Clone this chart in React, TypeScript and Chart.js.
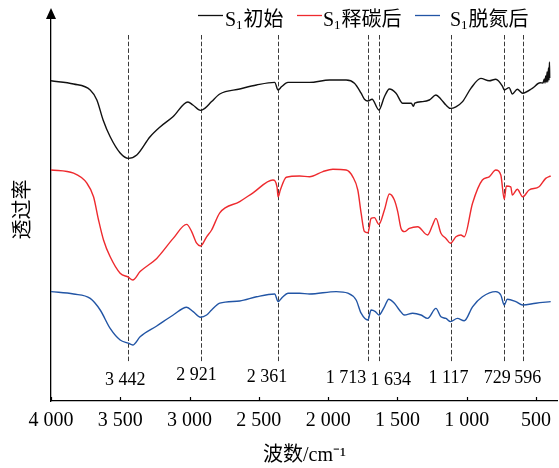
import React, { useEffect, useRef } from 'react';
import { Chart, registerables } from 'chart.js';

Chart.register(...registerables);

// ---------- data ----------
const xTickValues = [4000, 3500, 3000, 2500, 2000, 1500, 1000, 500];
const peakWavenumbers = [3442, 2921, 2361, 1713, 1634, 1117, 729, 596];

const sampleName = 'S';
const sampleSub = '1';
const seriesSuffixes = ['初始', '释碳后', '脱氮后'];
const seriesColors = ['#111111', '#ee2a2e', '#2255a5'];

const initialWn = [4000, 3837, 3717, 3669, 3624, 3573, 3501, 3442, 3381, 3285, 3213, 3120, 3012, 2976, 2921, 2890, 2841, 2782, 2638, 2517, 2386, 2361, 2337, 2290, 2206, 2134, 1990, 1870, 1810, 1762, 1738, 1713, 1683, 1634, 1594, 1558, 1510, 1462, 1400, 1385, 1375, 1318, 1270, 1222, 1186, 1150, 1117, 1078, 1030, 970, 898, 838, 790, 743, 729, 694, 671, 635, 596, 527, 470, 450, 440, 435, 430, 425, 420, 415, 410, 406, 403, 401];
const initialT = [80.8, 80, 78.5, 76, 71, 66.8, 62.75, 61.4, 62.25, 66.8, 69.25, 71.8, 75.5, 74.75, 73.4, 73.9, 75.6, 77.5, 78.75, 79.75, 80.4, 78.5, 79.3, 80.4, 80.4, 80.4, 81, 81, 80.2, 77.7, 76.2, 75.75, 76.2, 73.5, 76.8, 78.75, 77.7, 75.2, 75.2, 74.4, 75.2, 75.6, 76, 77.25, 76.2, 74.75, 73.9, 74.3, 75.6, 78.9, 81.4, 80.8, 81.2, 79.5, 78.5, 79.1, 77.5, 78.7, 77.7, 78.9, 80.3, 80.25, 81.25, 80.25, 82, 80.5, 83, 80.5, 84, 81, 85.5, 81.5];

const carbonWn = [4000, 3837, 3741, 3693, 3657, 3621, 3573, 3501, 3442, 3410, 3357, 3237, 3118, 3021, 2985, 2949, 2921, 2877, 2841, 2782, 2638, 2542, 2398, 2369, 2361, 2345, 2302, 2206, 2134, 2038, 1966, 1870, 1822, 1786, 1762, 1738, 1713, 1690, 1666, 1634, 1594, 1558, 1522, 1498, 1474, 1450, 1414, 1354, 1282, 1246, 1222, 1186, 1150, 1117, 1078, 1042, 1018, 958, 887, 838, 790, 754, 729, 714, 682, 671, 635, 596, 550, 478, 430, 394];
const carbonT = [58.5, 57.7, 55.2, 51.8, 46, 41, 36.8, 32.7, 31.7, 31, 33.1, 36.4, 41.4, 44.9, 43.1, 40.2, 39.5, 41.8, 43.5, 47.8, 50.6, 52.8, 56, 54.3, 51.8, 53.5, 56.7, 57, 56.8, 58.1, 58.7, 58.5, 56.8, 53.5, 47.7, 43.1, 42.8, 46.4, 46.6, 44.9, 48.5, 52.5, 51, 48.1, 43.9, 43.1, 43.9, 44.3, 42.25, 44.75, 46.4, 42.7, 41.4, 40.2, 41.8, 42.25, 41.8, 50.2, 56, 56.8, 58.5, 57.25, 51.2, 54.5, 54.3, 52.25, 53.7, 51.8, 53.5, 54.3, 56.4, 57];

const nitrogenWn = [4000, 3837, 3717, 3645, 3573, 3501, 3442, 3410, 3357, 3237, 3118, 3021, 2974, 2921, 2877, 2841, 2782, 2638, 2517, 2386, 2361, 2330, 2290, 2206, 2134, 1942, 1858, 1798, 1762, 1713, 1690, 1659, 1634, 1594, 1563, 1522, 1486, 1450, 1390, 1330, 1282, 1222, 1186, 1150, 1117, 1067, 1018, 958, 887, 790, 754, 729, 707, 646, 596, 502, 394];
const nitrogenT = [28.1, 27.5, 26.4, 23.5, 18.9, 16, 15.2, 14.75, 16.8, 19.5, 22.25, 24.2, 23.1, 21.7, 22.25, 23.5, 25.2, 25.75, 26.8, 27.5, 25.6, 26.7, 27.7, 27.7, 27.5, 28.1, 27.7, 26, 22.7, 21, 23.5, 23.1, 22.25, 24.3, 26.2, 25.2, 23.5, 22.25, 22.7, 22.25, 21.4, 23.9, 21.8, 21.4, 20.6, 21.4, 20.8, 24.3, 26.8, 28.1, 27.25, 24.75, 26.2, 25.6, 24.75, 25.2, 25.6];

const seriesWn = [initialWn, carbonWn, nitrogenWn];
const seriesT = [initialT, carbonT, nitrogenT];

// ---------- helpers ----------
const FONT = '"Liberation Serif", "Noto Sans CJK SC", serif';
const fmt = (v: number) =>
  v >= 1000 ? `${Math.floor(v / 1000)} ${String(v % 1000).padStart(3, '0')}` : String(v);

const annotPlugin = {
  id: 'annot',
  beforeDatasetsDraw(chart: any) {
    const { ctx, chartArea, scales } = chart;
    const x = scales.x;
    ctx.save();
    ctx.strokeStyle = '#3a3a3a';
    ctx.lineWidth = 1;
    ctx.setLineDash([4.5, 2.2]);
    const yTop = chartArea.top + 17;
    const yBot = chartArea.bottom - 38;
    peakWavenumbers.forEach((p) => {
      const px = Math.round(x.getPixelForValue(p)) + 0.5;
      ctx.beginPath();
      ctx.moveTo(px, yTop);
      ctx.lineTo(px, yBot);
      ctx.stroke();
    });
    ctx.restore();
  },
  afterDraw(chart: any) {
    const { ctx, chartArea, scales } = chart;
    const x = scales.x;
    ctx.save();
    // inward ticks
    ctx.strokeStyle = '#000';
    ctx.lineWidth = 1.2;
    xTickValues.forEach((v) => {
      const px = Math.round(x.getPixelForValue(v)) + 0.5;
      ctx.beginPath();
      ctx.moveTo(px, chartArea.bottom);
      ctx.lineTo(px, chartArea.bottom - 4);
      ctx.stroke();
    });
    // y-axis arrow
    ctx.fillStyle = '#000';
    const ax = chartArea.left;
    ctx.beginPath();
    ctx.moveTo(ax, chartArea.top - 10);
    ctx.lineTo(ax - 5, chartArea.top + 1);
    ctx.lineTo(ax + 5, chartArea.top + 1);
    ctx.closePath();
    ctx.fill();
    // peak labels
    const dx = [-3, -4, -11, -22, 12, -2, -7, 5];
    const ly = [380, 375, 377, 378, 380, 378, 378, 378];
    ctx.font = `18px ${FONT}`;
    ctx.textAlign = 'center';
    ctx.textBaseline = 'middle';
    peakWavenumbers.forEach((p, i) => {
      ctx.fillText(fmt(p), x.getPixelForValue(p) + dx[i], ly[i]);
    });
    // legend
    const starts = [198, 297, 415];
    const textGap = [2, 1, 10];
    const lineY = 15.5;
    const base = 26;
    ctx.textAlign = 'left';
    ctx.textBaseline = 'alphabetic';
    seriesSuffixes.forEach((s, i) => {
      const x0 = starts[i];
      ctx.strokeStyle = seriesColors[i];
      ctx.lineWidth = 1.3;
      ctx.beginPath();
      ctx.moveTo(x0, lineY);
      ctx.lineTo(x0 + 25, lineY);
      ctx.stroke();
      let tx = x0 + 25 + textGap[i];
      ctx.fillStyle = '#000';
      ctx.font = `20px ${FONT}`;
      ctx.fillText(sampleName, tx, base);
      tx += ctx.measureText(sampleName).width;
      ctx.font = `13px ${FONT}`;
      ctx.fillText(sampleSub, tx, base + 3);
      tx += ctx.measureText(sampleSub).width + 1;
      ctx.font = `20px ${FONT}`;
      ctx.fillText(s, tx, base);
    });
    ctx.restore();
  },
};

export default function App() {
  const ref = useRef<HTMLCanvasElement | null>(null);
  useEffect(() => {
    if (!ref.current) return;
    const datasets = seriesSuffixes.map((s, i) => ({
      label: `${sampleName}₁${s}`,
      data: seriesWn[i].map((w, j) => ({ x: w, y: seriesT[i][j] })),
      borderColor: seriesColors[i],
      borderWidth: 1.4,
      pointRadius: 0,
      cubicInterpolationMode: 'monotone' as const,
      fill: false,
    }));
    const chart = new Chart(ref.current, {
      type: 'line',
      data: { datasets },
      options: {
        animation: false,
        responsive: false,
        layout: { padding: { top: 18, left: 0, right: 0, bottom: 0 } },
        plugins: { legend: { display: false }, tooltip: { enabled: false } },
        scales: {
          x: {
            type: 'linear',
            reverse: true,
            min: 342,
            max: 4000,
            afterBuildTicks: (s: any) => {
              s.ticks = xTickValues.map((v) => ({ value: v }));
            },
            afterFit: (s: any) => {
              s.height = 67;
            },
            grid: { display: false, drawTicks: false },
            border: { display: true, color: '#000', width: 1.3 },
            ticks: {
              font: { family: FONT, size: 20 },
              color: '#000',
              padding: 8,
              maxRotation: 0,
              autoSkip: false,
              callback: (v: any) => fmt(Number(v)),
            },
            title: {
              display: true,
              text: '波数/cm⁻¹',
              font: { family: FONT, size: 20 },
              color: '#000',
              padding: { top: 13, bottom: 0 },
            },
          },
          y: {
            type: 'linear',
            min: 0.75,
            max: 96.5,
            ticks: { display: false },
            grid: { display: false, drawTicks: false },
            border: { display: true, color: '#000', width: 1.3 },
            afterFit: (s: any) => {
              s.width = 51;
            },
            title: {
              display: true,
              text: '透过率',
              font: { family: FONT, size: 20 },
              color: '#000',
              padding: { top: 12, bottom: 0 },
            },
          },
        },
      },
      plugins: [annotPlugin],
    });
    return () => chart.destroy();
  }, []);
  return (
    <div style={{ position: 'absolute', left: 0, top: 0, width: 559, height: 468, background: '#fff' }}>
      <canvas ref={ref} width={559} height={468} style={{ display: 'block' }} />
    </div>
  );
}
